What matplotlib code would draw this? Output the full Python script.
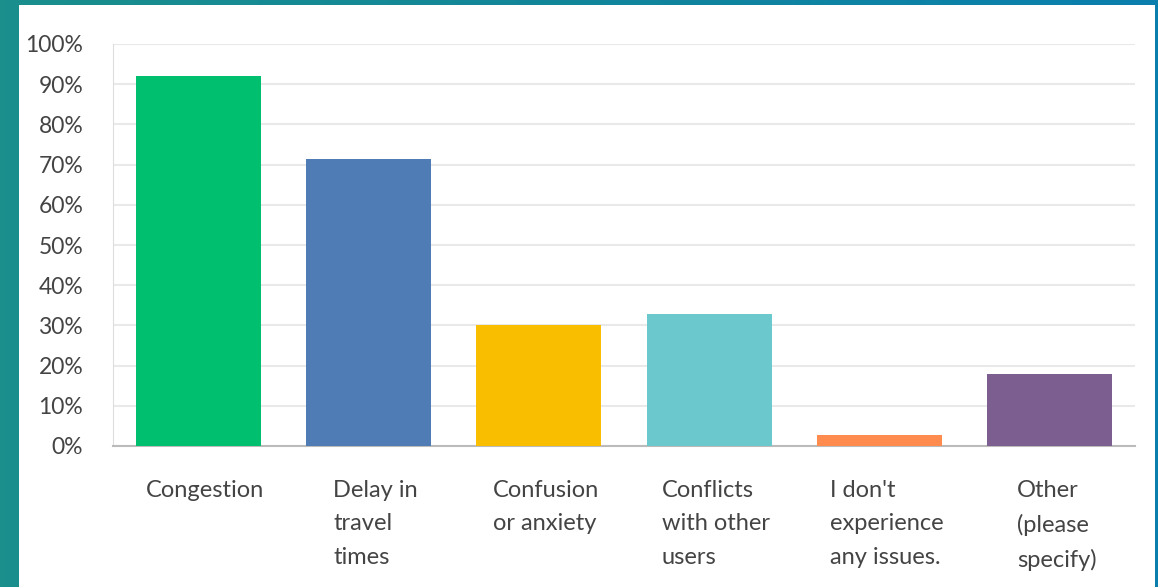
import numpy as np
import matplotlib.pyplot as plt
from matplotlib.patches import Rectangle
from matplotlib.colors import LinearSegmentedColormap

# --- DATA ---
categories = ["Congestion", "Delay in\ntravel\ntimes", "Confusion\nor anxiety",
              "Conflicts\nwith other\nusers", "I don't\nexperience\nany issues.",
              "Other\n(please\nspecify)"]
values = [92.0, 71.4, 30.1, 32.8, 2.7, 17.9]
colors = ["#00BF6F", "#507CB6", "#F9BE00", "#6BC8CD", "#FF8B4F", "#7D5E90"]
yticks = [0, 10, 20, 30, 40, 50, 60, 70, 80, 90, 100]

W, H = 1158, 587
fig = plt.figure(figsize=(W / 100, H / 100), dpi=100)

# teal backdrop + white panel
bg = fig.add_axes([0, 0, 1, 1], zorder=-10)
grad = np.linspace(0, 1, 256).reshape(1, -1)
cmap = LinearSegmentedColormap.from_list("bg", ["#1b8f8c", "#12869a", "#0a7fae"])
bg.imshow(grad, aspect="auto", cmap=cmap, extent=[0, 1, 0, 1])
bg.add_patch(Rectangle((19 / W, 0), (1155 - 19) / W, (H - 5) / H,
                       facecolor="white", edgecolor="none"))
bg.set_xlim(0, 1)
bg.set_ylim(0, 1)
bg.axis("off")

ax = fig.add_axes([113 / W, 141 / H, 1022 / W, 402 / H])
ax.set_facecolor("none")
x = np.arange(len(categories))
ax.bar(x, values, width=0.735, color=colors, zorder=3)

ax.set_xlim(-0.5, len(categories) - 0.5)
ax.set_ylim(0, 100)
ax.set_yticks(yticks)
ax.set_yticklabels([f"{v}%" for v in yticks], fontsize=16.5, color="#444444",
                   family="Lato")
ax.tick_params(axis="y", length=0, pad=21.5)
ax.tick_params(axis="x", length=0)
ax.set_xticks([])
ax.grid(axis="y", color="#e9e9e9", linewidth=1.5, zorder=0)

for s in ["top", "right"]:
    ax.spines[s].set_visible(False)
ax.spines["left"].set_color("#dddddd")
ax.spines["bottom"].set_color("#bbbbbb")
ax.spines["bottom"].set_linewidth(1.5)

for i, lab in enumerate(categories):
    ax.text(i + 0.04, -8.5, lab, ha="center", va="top", multialignment="left",
            fontsize=17, color="#444444", family="Lato", linespacing=1.72,
            transform=ax.transData, clip_on=False)

plt.savefig("out.png", dpi=100)
plt.close()
